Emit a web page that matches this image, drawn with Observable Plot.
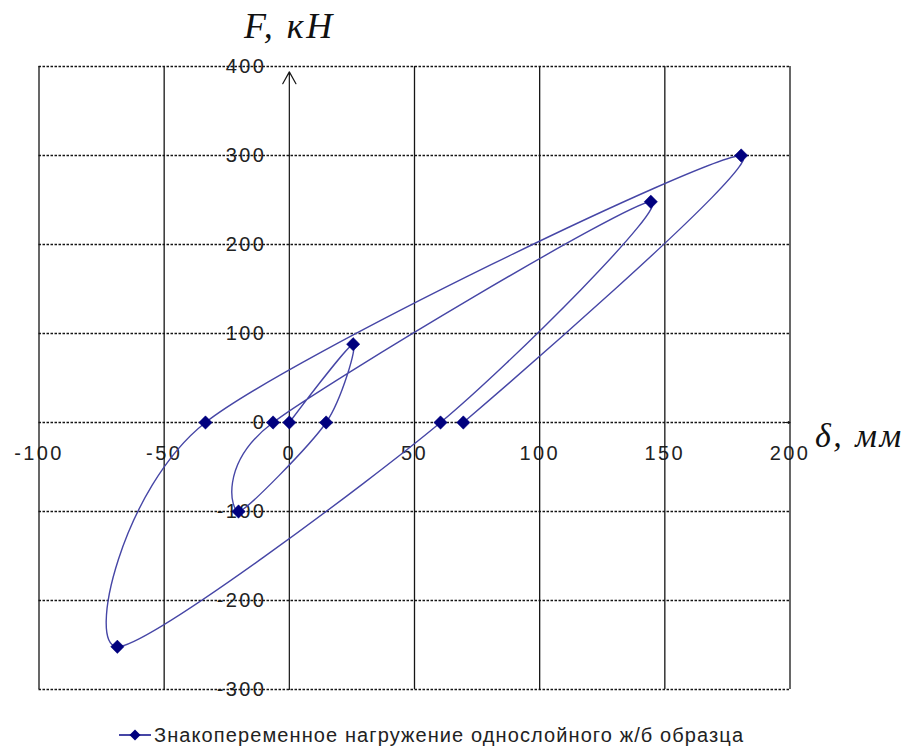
<!DOCTYPE html>
<html>
<head>
<meta charset="utf-8">
<script src="https://cdn.jsdelivr.net/npm/d3@7"></script>
<script src="https://cdn.jsdelivr.net/npm/@observablehq/plot@0.6"></script>
<style>
  html, body { margin: 0; padding: 0; background: #fff; }
  #chart { width: 912px; height: 753px; position: relative; overflow: hidden; }
  #chart svg text.tick-label { letter-spacing: 2.4px; }
  #chart svg text.axis-title { letter-spacing: 2.5px; }
  .legend {
    position: absolute; left: 118px; top: 720px; height: 30px;
    display: flex; align-items: center;
    font-family: "Liberation Sans", Arial, sans-serif;
    font-size: 20px; letter-spacing: 1.1px; color: #222;
  }
  .legend svg { margin-right: 2px; }
</style>
</head>
<body>
<div id="chart"></div>
<script>
// Cyclic (alternating) loading of a single-layer reinforced concrete specimen:
// displacement δ (mm) against force F (kN), in load order.
const deltaMm = [0, 25.5, 14.7, -20.3, -6.5, 144.4, 60.4, -68.7, -33.5, 180.5, 69.5];
const forceKn = [0, 88, 0, -100, 0, 248, 0, -252, 0, 300, 0];

const xTicks = [-100, -50, 0, 50, 100, 150, 200];
const yTicks = [-300, -200, -100, 0, 100, 200, 300, 400];

const seriesName = "Знакопеременное нагружение однослойного ж/б образца";
const xTitle = "δ, мм";
const yTitle = "F, кН";

const points = deltaMm.map((d, i) => ({delta: d, force: forceKn[i]}));

const xMin = xTicks[0], xMax = xTicks[xTicks.length - 1];
const yMin = yTicks[0], yMax = yTicks[yTicks.length - 1];

const lineColor = "#4646a6";
const markerColor = "#00007e";
const gridColor = "#151515";
const labelFont = "'Liberation Sans', Arial, sans-serif";
const titleFont = "'Liberation Serif', 'Times New Roman', serif";

// Plot.text sets no class on the <text> nodes themselves, so tag them afterwards
function tagTexts(mark, cls) {
  const render = mark.render;
  mark.render = function(...args) {
    const g = render.apply(this, args);
    if (g) g.querySelectorAll("text").forEach(t => t.classList.add(cls));
    return g;
  };
  return mark;
}

const chart = Plot.plot({
  width: 912,
  height: 712,
  marginLeft: 38.5,
  marginRight: 122.5,
  marginTop: 66,
  marginBottom: 23,
  x: {domain: [xMin, xMax], axis: null},
  y: {domain: [yMin, yMax], axis: null},
  style: {background: "transparent", overflow: "visible"},
  marks: [
    // tick labels sit on the axes through the origin
    tagTexts(Plot.text(xTicks, {
      x: d => d, y: () => 0, dy: 31, text: d => String(d),
      fontSize: 20, fill: "#222", fontFamily: labelFont
    }), "tick-label"),
    tagTexts(Plot.text(yTicks, {
      x: () => 0, y: d => d, dx: -23, textAnchor: "end", text: d => String(d),
      fontSize: 20, fill: "#222", fontFamily: labelFont
    }), "tick-label"),
    // vertical grid (solid) and horizontal grid (dashed)
    Plot.ruleX(xTicks.filter(d => d !== 0), {x: d => d, stroke: gridColor, strokeWidth: 1.3}),
    Plot.ruleY(yTicks, {y: d => d, stroke: gridColor, strokeWidth: 1.6, strokeDasharray: "2.5,1.5"}),
    // axis arrows through the origin
    Plot.arrow([{x1: 0, y1: yMin, x2: 0, y2: yMax - 6}], {
      x1: "x1", y1: "y1", x2: "x2", y2: "y2",
      stroke: gridColor, strokeWidth: 1.2, headLength: 17, headAngle: 58
    }),
    Plot.arrow([{x1: xMax - 2, y1: 0, x2: xMax, y2: 0}], {
      x1: "x1", y1: "y1", x2: "x2", y2: "y2",
      stroke: gridColor, strokeWidth: 1.2, headLength: 17, headAngle: 58
    }),
    // hysteresis curve with markers at the recorded states
    Plot.line(points, {x: "delta", y: "force", curve: "cardinal", tension: 0.2, stroke: lineColor, strokeWidth: 1.4}),
    Plot.dot(points, {x: "delta", y: "force", symbol: "diamond2", r: 6, fill: markerColor, stroke: markerColor, strokeWidth: 0.5}),
    // axis titles
    tagTexts(Plot.text([yTitle], {
      x: () => 0, y: () => yMax, dy: -40, text: d => d,
      fontSize: 36, fontStyle: "italic", fill: "#111", fontFamily: titleFont
    }), "axis-title"),
    tagTexts(Plot.text([xTitle], {
      x: () => xMax, y: () => 0, dx: 25, dy: 14, textAnchor: "start", text: d => d,
      fontSize: 34, fontStyle: "italic", fill: "#111", fontFamily: titleFont
    }), "axis-title")
  ]
});

const root = document.getElementById("chart");
root.appendChild(chart);

// legend: line sample with a diamond marker, then the series name
const legend = document.createElement("div");
legend.className = "legend";
legend.innerHTML =
  `<svg width="34" height="14" viewBox="0 0 34 14">
     <line x1="1" y1="7" x2="33" y2="7" stroke="${lineColor}" stroke-width="2"/>
     <path d="M17 1.5 L22.5 7 L17 12.5 L11.5 7 Z" fill="${markerColor}"/>
   </svg><span></span>`;
legend.querySelector("span").textContent = seriesName;
root.appendChild(legend);
</script>
</body>
</html>
